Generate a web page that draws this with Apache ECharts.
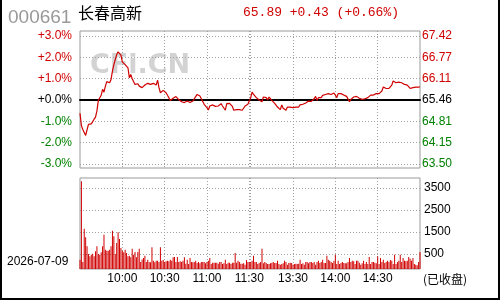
<!DOCTYPE html>
<html>
<head>
<meta charset="utf-8">
<script src="https://cdn.jsdelivr.net/npm/echarts@6/dist/echarts.min.js"></script>
<style>
  html, body { margin: 0; padding: 0; background: #fff; }
  #chart { width: 500px; height: 300px; }
</style>
</head>
<body>
<div id="chart"></div>
<script>
// otsikkotekstit
const stockCode = '000661';
const stockName = '长春高新';
const quoteText = '65.89 +0.43 (+0.66%)';
const dateText = '2026-07-09';
const closedText = '(已收盘)';

// akselien tekstit
const pctLabels = ['-3.0%', '-2.0%', '-1.0%', '+0.0%', '+1.0%', '+2.0%', '+3.0%'];
const priceLabels = ['63.50', '64.15', '64.81', '65.46', '66.11', '66.77', '67.42'];
const volLabels = ['500', '1500', '2500', '3500'];
const gridTimes = ['10:00', '10:30', '11:00', '11:30', '13:00', '13:30', '14:00', '14:30'];
const labelTimes = ['10:00', '10:30', '11:00', '11:30', '13:30', '14:00', '14:30'];

// muutos % edellisestä päätöksestä, aamu 9:30-11:30
const pctAM = [-0.62, -1.20, -1.38, -1.45, -1.66, -1.70, -1.14, -1.06, -1.12, -1.18,
  -0.90, -0.80, -0.51, -0.02, 0.03, 0.22, 0.50, 0.37, 0.65, 0.86,
  0.89, 0.81, 0.96, 1.35, 1.66, 1.90, 2.13, 2.26, 2.26, 2.10,
  1.79, 1.74, 1.66, 1.59, 1.51, 1.04, 1.20, 1.00, 1.00, 0.73,
  0.76, 0.76, 0.65, 0.70, 0.58, 0.66, 0.70, 0.78, 0.78, 0.78,
  0.73, 0.79, 0.78, 0.76, 0.70, 0.93, 0.58, 0.34, 0.42, 0.45,
  0.42, 0.34, 0.22, 0.11, -0.02, -0.05, 0.08, 0.14, 0.16, 0.16,
  0.02, -0.05, -0.08, -0.12, -0.12, -0.12, -0.05, -0.02, -0.12, -0.20,
  -0.05, 0.06, 0.16, 0.26, 0.33, 0.19, 0.06, 0.00, -0.20, -0.23,
  -0.36, -0.47, -0.28, -0.25, -0.23, -0.30, -0.30, -0.30, -0.28, -0.23,
  -0.17, -0.28, -0.33, -0.48, -0.17, -0.23, -0.16, -0.08, -0.30, -0.48,
  -0.39, -0.45, -0.51, -0.45, -0.40, -0.48, -0.39, -0.28, -0.20, -0.20,
  -0.17];
// iltapäivä 13:00-15:00
const pctPM = [0.11, 0.37, 0.26, 0.30, 0.11, 0.03, 0.00, -0.05, -0.08, 0.14,
  0.11, 0.11, 0.00, 0.14, 0.11, -0.02, -0.08, -0.16, -0.23, -0.33,
  -0.39, -0.45, -0.23, -0.39, -0.45, -0.48, -0.33, -0.36, -0.33, -0.36,
  -0.36, -0.33, -0.33, -0.30, -0.33, -0.23, -0.20, -0.20, -0.17, -0.14,
  -0.05, -0.05, -0.08, -0.06, -0.05, 0.06, 0.17, -0.02, 0.11, 0.14,
  0.11, 0.22, 0.22, 0.26, 0.23, 0.30, 0.23, 0.26, 0.26, 0.33,
  0.23, 0.11, 0.30, 0.37, 0.30, 0.26, 0.23, 0.19, 0.17, 0.11,
  -0.08, 0.03, 0.11, 0.14, 0.17, 0.17, 0.11, 0.08, 0.06, 0.03,
  0.03, 0.06, 0.06, 0.11, 0.11, 0.23, 0.23, 0.23, 0.26, 0.30,
  0.30, 0.30, 0.37, 0.42, 0.61, 0.54, 0.54, 0.54, 0.54, 0.58,
  0.70, 0.89, 0.84, 0.81, 0.81, 0.84, 0.79, 0.81, 0.81, 0.73,
  0.73, 0.70, 0.64, 0.54, 0.54, 0.58, 0.58, 0.60, 0.60, 0.60,
  0.62];

// volyymi
const volAM = [394, 3700, 300, 1702, 1337, 957, 633, 535, 605, 647,
  535, 745, 957, 633, 605, 703, 957, 1449, 816, 774,
  774, 816, 957, 1618, 1379, 633, 1097, 1548, 1266, 886,
  774, 703, 816, 675, 535, 563, 492, 858, 600, 717,
  500, 717, 858, 295, 400, 464, 563, 295, 394, 295,
  281, 914, 352, 281, 352, 352, 295, 914, 352, 380,
  295, 323, 352, 330, 394, 352, 492, 506, 295, 506,
  295, 323, 295, 352, 492, 225, 394, 211, 464, 295,
  281, 300, 352, 253, 295, 239, 295, 295, 295, 239,
  295, 352, 464, 211, 260, 267, 267, 267, 225, 295,
  295, 211, 240, 394, 211, 267, 267, 211, 267, 267,
  675, 267, 352, 295, 225, 225, 239, 183, 380, 295,
  295];
const volPM = [295, 352, 563, 295, 295, 211, 253, 295, 858, 239,
  295, 253, 211, 211, 239, 267, 295, 253, 253, 352,
  211, 183, 211, 239, 352, 295, 183, 253, 267, 253,
  183, 211, 225, 211, 225, 394, 211, 239, 183, 295,
  295, 239, 295, 295, 253, 295, 183, 295, 352, 253,
  295, 394, 253, 253, 563, 394, 352, 295, 253, 352,
  605, 211, 352, 211, 253, 295, 253, 239, 239, 295,
  464, 295, 352, 323, 211, 352, 352, 267, 183, 239,
  352, 211, 295, 211, 506, 211, 295, 295, 267, 239,
  535, 211, 464, 295, 394, 253, 295, 352, 295, 380,
  352, 211, 605, 211, 295, 352, 605, 295, 464, 352,
  323, 352, 506, 436, 352, 464, 211, 183, 155, 295,
  717];

// minuuttikategoriat
function buildTimes() {
  const t = [];
  const add = (h, m, n) => {
    for (let k = 0; k < n; k++) {
      const mm = h * 60 + m + k;
      t.push(String(Math.floor(mm / 60)).padStart(2, '0') + ':' + String(mm % 60).padStart(2, '0'));
    }
  };
  add(9, 30, 121);
  add(13, 0, 121);
  return t;
}
const times = buildTimes();
const pct = pctAM.concat(pctPM);
const vol = volAM.concat(volPM);

const RED = '#d00000';
const GREEN = '#008000';
const GRID_LINE = { color: '#a0a0a0', width: 1, type: [1, 2] };
const labelFont = 'Liberation Sans';

function signColor(v) {
  if (v > 0) return RED;
  if (v < 0) return GREEN;
  return '#000';
}

const hiddenCat = (gridIndex) => ({
  type: 'category', gridIndex: gridIndex, data: times, boundaryGap: false,
  axisLine: { show: false }, axisTick: { show: false }, axisLabel: { show: false },
  splitLine: { show: false }
});

let myChart = echarts.init(document.getElementById('chart'), null, { renderer: 'canvas' });

const option = {
  animation: false,
  backgroundColor: '#fff',
  grid: [
    { left: 80, top: 31, width: 340, height: 137, show: true, borderColor: '#999', borderWidth: 1, backgroundColor: 'transparent' }, // hintakehys
    { left: 80, top: 36, width: 340, height: 128 },                                                                          // hinta
    { left: 80, top: 178, width: 340, height: 91, show: true, borderColor: '#999', borderWidth: 1, backgroundColor: 'transparent' }, // volyymi
    { left: 80, top: 188, width: 340, height: 66 }                                                                           // volyymin viivat
  ],
  xAxis: [
    Object.assign(hiddenCat(0), {
      splitLine: { show: true, interval: (i, v) => gridTimes.includes(v), lineStyle: GRID_LINE }
    }),
    Object.assign(hiddenCat(1), {
      axisLine: { show: true, onZero: true, lineStyle: { color: '#000', width: 2 } }
    }),
    Object.assign(hiddenCat(2), {
      splitLine: { show: true, interval: (i, v) => gridTimes.includes(v), lineStyle: GRID_LINE },
      axisLabel: {
        show: true, interval: (i, v) => labelTimes.includes(v), margin: 4,
        color: '#000', fontSize: 12, fontFamily: labelFont
      }
    }),
    hiddenCat(3)
  ],
  yAxis: [
    { type: 'value', gridIndex: 0, min: 0, max: 1, show: false },
    {
      type: 'value', gridIndex: 1, min: -3, max: 3, interval: 1, position: 'left',
      axisLine: { show: false }, axisTick: { show: false },
      splitLine: { show: true, lineStyle: GRID_LINE },
      axisLabel: {
        margin: 8, fontSize: 12, fontFamily: labelFont,
        formatter: (v) => pctLabels[Math.round(v) + 3],
        color: (v) => signColor(Number(v))
      }
    },
    {
      type: 'value', gridIndex: 1, min: -3, max: 3, interval: 1, position: 'right',
      axisLine: { show: false }, axisTick: { show: false }, splitLine: { show: false },
      axisLabel: {
        margin: 2, fontSize: 12, fontFamily: labelFont,
        formatter: (v) => priceLabels[Math.round(v) + 3],
        color: (v) => signColor(Number(v))
      }
    },
    { type: 'value', gridIndex: 2, min: 0, max: 3840, show: false },
    {
      type: 'value', gridIndex: 3, min: 500, max: 3500, interval: 1000, position: 'right',
      axisLine: { show: false }, axisTick: { show: false },
      splitLine: { show: true, lineStyle: GRID_LINE },
      axisLabel: {
        margin: 4, fontSize: 12, fontFamily: labelFont, color: '#000',
        formatter: (v, i) => volLabels[i]
      }
    }
  ],
  graphic: [
    {
      type: 'text', left: 90, top: 52, z: 0, silent: true,
      style: { text: 'CFi.CN', fill: '#d3d3d3', font: 'bold 27px "DejaVu Sans"' }
    },
    {
      type: 'text', left: 8, top: 8,
      style: { text: stockCode, fill: '#999', font: '19px "Liberation Sans"' }
    },
    {
      type: 'text', left: 78, top: 5,
      style: { text: stockName, fill: '#000', font: '16px "Noto Sans CJK SC"' }
    },
    {
      type: 'text', left: 243, top: 6,
      style: { text: quoteText, fill: RED, font: '13px "Liberation Mono"' }
    },
    {
      type: 'text', left: 7, top: 256,
      style: { text: dateText, fill: '#000', font: '12px "Liberation Sans"' }
    },
    {
      type: 'text', left: 423, top: 273,
      style: { text: closedText, fill: '#000', font: '12px "Noto Sans CJK SC"' }
    },
    {
      type: 'polyline', silent: true,
      shape: { points: [[1, 0], [1, 299], [499, 299], [499, 0]] },
      style: { stroke: '#000', lineWidth: 2, fill: null }
    }
  ],
  series: [
    {
      name: 'pct', type: 'line', xAxisIndex: 1, yAxisIndex: 1, data: pct,
      showSymbol: false, z: 5,
      lineStyle: { color: RED, width: 1.2 }
    },
    {
      name: 'vol', type: 'bar', xAxisIndex: 2, yAxisIndex: 3, data: vol,
      barWidth: 1, itemStyle: { color: RED }
    }
  ]
};

myChart.setOption(option);
</script>
</body>
</html>
